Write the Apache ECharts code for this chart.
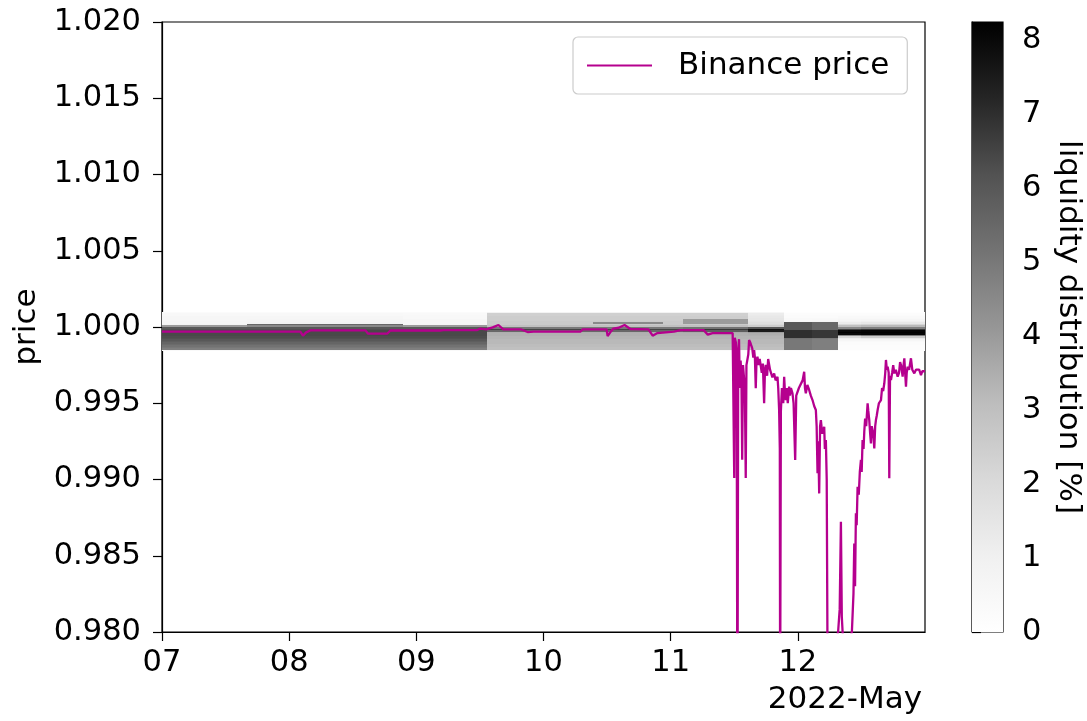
<!DOCTYPE html>
<html>
<head>
<meta charset="utf-8">
<script src="https://cdn.jsdelivr.net/npm/echarts@6/dist/echarts.min.js"></script>
<style>
  html, body { margin: 0; padding: 0; background: #fff; }
  #chart { width: 1087px; height: 721px; }
</style>
</head>
<body>
<div id="chart"></div>
<script>
// Hours are counted from 2022-05-07 00:00.
const dayTicks = [0, 24, 48, 72, 96, 120];
const dayLabels = ['07', '08', '09', '10', '11', '12'];
const colorbarTicks = [0, 1, 2, 3, 4, 5, 6, 7, 8];
const colorbarMax = 8.25;

// Binance price: [hour, price]
const binancePrice = [
  [0, 0.9997], [26.1, 0.9997], [26.6, 0.99943], [27.2, 0.99965], [28.0, 0.99978],
  [38.4, 0.99978], [38.9, 0.99956], [42.5, 0.99956], [43.1, 0.99977], [52.5, 0.99977],
  [53.1, 0.9998], [59.5, 0.9998], [60.1, 0.9999], [61.2, 0.99985], [62.4, 0.99998],
  [63.5, 1.00013], [64.4, 0.99985], [67.7, 0.99985], [69.0, 0.99967], [70.1, 0.9997],
  [79.0, 0.9997], [79.4, 0.99985], [83.9, 0.99985], [84.1, 0.9994], [84.7, 0.9997],
  [85.2, 0.9999], [86.2, 0.99995], [87.3, 1.00013], [88.4, 0.99987], [91.8, 0.99985],
  [92.6, 0.99943], [93.5, 0.9996], [96.6, 0.9997], [97.9, 0.9998], [102.2, 0.9998],
  [103.0, 0.9995], [103.9, 0.9996], [107.7, 0.9996], [107.95, 0.9996],
  [108.0, 0.9901], [108.1, 0.9993], [108.3, 0.9990], [108.45, 0.9975], [108.6, 0.9720],
  [108.75, 0.9985], [108.9, 0.9992], [109.05, 0.9960], [109.2, 0.9978], [109.35, 0.9968],
  [109.5, 0.9913], [109.65, 0.9975], [109.85, 0.9974], [110.0, 0.9960], [110.17, 0.9901],
  [110.3, 0.9975], [110.5, 0.9974], [110.65, 0.9982], [110.8, 0.99915], [111.0, 0.9990],
  [111.12, 0.99893], [111.4, 0.9986], [111.6, 0.9980], [111.75, 0.99849], [111.9, 0.9980],
  [112.06, 0.99598], [112.2, 0.9978], [112.38, 0.99805], [112.6, 0.9975], [112.8, 0.9979],
  [113.01, 0.99784], [113.2, 0.9970], [113.4, 0.9976], [113.64, 0.9950], [113.8, 0.9972],
  [113.95, 0.99751], [114.2, 0.9968], [114.4, 0.9979], [114.58, 0.99795], [114.75, 0.9972],
  [114.9, 0.99718], [115.2, 0.9967], [115.53, 0.99696], [115.8, 0.9965], [116.16, 0.99674],
  [116.3, 0.9960], [116.47, 0.99456], [116.6, 0.9920], [116.66, 0.9750], [116.8, 0.9945],
  [117.0, 0.9960], [117.1, 0.99565], [117.25, 0.9950], [117.42, 0.99674], [117.6, 0.9955],
  [117.73, 0.99521], [117.9, 0.9960], [118.1, 0.9950], [118.36, 0.99609], [118.5, 0.9955],
  [118.7, 0.9960], [118.99, 0.99565], [119.2, 0.9950], [119.5, 0.99128], [119.7, 0.9955],
  [119.94, 0.99543], [120.2, 0.9960], [120.57, 0.99609], [120.9, 0.9965], [121.2, 0.99707],
  [121.35, 0.9960], [121.51, 0.99565], [121.8, 0.9962], [122.14, 0.99587], [122.45, 0.9955],
  [122.77, 0.99521], [123.1, 0.9948], [123.4, 0.99456], [123.55, 0.9935], [123.72, 0.99041],
  [123.85, 0.9925], [124.03, 0.98909], [124.2, 0.9935], [124.35, 0.9939], [124.6, 0.9930],
  [124.98, 0.99346], [125.1, 0.9920], [125.29, 0.99259], [125.45, 0.9900], [125.61, 0.9780],
  [125.8, 0.9790], [126.0, 0.9770], [126.3, 0.9785], [126.6, 0.9775], [126.9, 0.9790],
  [127.2, 0.9790], [127.6, 0.9800], [127.9, 0.9815], [128.13, 0.98723], [128.3, 0.9810],
  [128.6, 0.9790], [129.0, 0.9775], [129.4, 0.9785], [129.8, 0.9795], [130.2, 0.9800],
  [130.5, 0.9825], [130.65, 0.9858], [130.8, 0.9830], [130.96, 0.98778], [131.1, 0.9870],
  [131.28, 0.98953], [131.5, 0.9890], [131.7, 0.9905], [131.91, 0.99128], [132.05, 0.9905],
  [132.22, 0.99259], [132.4, 0.9920], [132.54, 0.99313], [132.7, 0.9940], [132.9, 0.9935],
  [133.17, 0.99499], [133.3, 0.9945], [133.48, 0.9939], [133.65, 0.9930], [133.8, 0.99237],
  [133.95, 0.9935], [134.11, 0.99346], [134.25, 0.9930], [134.43, 0.99204], [134.6, 0.9935],
  [134.74, 0.9939], [134.9, 0.9942], [135.06, 0.99456], [135.3, 0.9950], [135.69, 0.99521],
  [135.9, 0.9960], [136.1, 0.9958], [136.32, 0.99631], [136.5, 0.9970], [136.63, 0.99784],
  [136.8, 0.9972], [136.95, 0.9974], [137.15, 0.9970], [137.26, 0.99008], [137.4, 0.9968],
  [137.58, 0.99652], [137.8, 0.9970], [138.0, 0.9975], [138.21, 0.99696], [138.5, 0.9972],
  [138.84, 0.99674], [139.1, 0.9970], [139.3, 0.9977], [139.47, 0.99751], [139.6, 0.9972],
  [139.78, 0.99674], [139.95, 0.9975], [140.1, 0.99795], [140.25, 0.9970], [140.41, 0.99609],
  [140.55, 0.9970], [140.72, 0.9974], [141.0, 0.9972], [141.35, 0.99795], [141.6, 0.9972],
  [141.98, 0.99696], [142.3, 0.9972], [142.61, 0.99707], [142.9, 0.9972], [143.24, 0.99685],
  [143.5, 0.9971], [143.87, 0.99718], [144.0, 0.9971]
];

// Liquidity heatmap: time column edges (hours) and price bins (lower edges, 0.0001 wide)
const timeEdges = [0, 16, 45.5, 61.4, 81.3, 94.5, 98.3, 110.6, 117.4, 122.6, 127.6, 131.9, 144];
const priceBinStart = 0.9984;
const priceBinWidth = 0.0001;
// liquidity[column][bin] in %, bins from 0.9984 up to 1.0009
const liquidity = [
  [0.4, 4.8, 5.0, 5.2, 5.4, 5.6, 5.8, 6.0, 6.2, 6.3, 6.4, 6.4, 6.4, 6.4, 6.2, 6.0, 4.0, 0.8, 0.7, 0.7, 0.6, 0.6, 0.6, 0.5, 0.5, 0.3],
  [0.4, 4.8, 5.0, 5.2, 5.4, 5.6, 5.8, 6.0, 6.2, 6.3, 6.4, 6.4, 6.4, 6.4, 6.2, 6.0, 4.5, 5.5, 0.8, 0.7, 0.7, 0.6, 0.6, 0.5, 0.5, 0.3],
  [0.4, 4.8, 5.0, 5.2, 5.4, 5.6, 5.8, 6.0, 6.2, 6.3, 6.4, 6.4, 6.4, 6.4, 6.2, 6.0, 4.0, 0.7, 0.6, 0.6, 0.6, 0.5, 0.5, 0.5, 0.4, 0.3],
  [0.3, 3.0, 3.0, 3.1, 3.1, 3.2, 3.2, 3.2, 3.3, 3.3, 3.4, 3.4, 3.5, 5.5, 6.5, 5.0, 3.0, 2.6, 2.6, 2.6, 2.5, 2.5, 2.5, 2.4, 2.4, 0.8],
  [0.3, 3.0, 3.0, 3.1, 3.1, 3.2, 3.2, 3.2, 3.3, 3.3, 3.4, 3.4, 3.5, 5.5, 6.5, 5.0, 3.0, 2.6, 4.5, 2.6, 2.5, 2.5, 2.5, 2.4, 2.4, 0.8],
  [0.3, 3.0, 3.0, 3.1, 3.1, 3.2, 3.2, 3.2, 3.3, 3.3, 3.4, 3.4, 3.5, 5.5, 6.5, 5.0, 3.0, 2.6, 2.6, 2.6, 2.5, 2.5, 2.5, 2.4, 2.4, 0.8],
  [0.3, 3.0, 3.0, 3.1, 3.1, 3.2, 3.2, 3.2, 3.3, 3.3, 3.4, 3.4, 3.6, 5.8, 6.8, 5.2, 3.0, 2.6, 4.0, 4.0, 4.0, 2.5, 2.5, 2.4, 2.4, 0.8],
  [0.3, 3.0, 3.0, 3.1, 3.1, 3.2, 3.2, 3.2, 3.3, 3.3, 3.4, 3.5, 4.0, 7.5, 7.8, 6.0, 2.5, 2.0, 1.8, 1.6, 1.5, 1.5, 1.4, 1.3, 1.2, 0.6],
  [0.3, 5.0, 5.0, 5.0, 5.0, 5.0, 5.0, 5.0, 5.2, 7.0, 7.0, 7.0, 7.0, 7.0, 6.0, 6.0, 6.0, 6.0, 6.0, 0.5, 0.4, 0.4, 0.3, 0.3, 0.2, 0.1],
  [0.3, 4.8, 4.8, 4.8, 4.8, 4.8, 4.8, 4.8, 5.0, 6.8, 6.8, 6.8, 6.8, 6.8, 5.5, 5.5, 5.5, 5.5, 5.5, 0.6, 0.5, 0.4, 0.3, 0.3, 0.2, 0.1],
  [0.1, 0.2, 0.2, 0.2, 0.3, 0.3, 0.4, 0.6, 1.0, 2.0, 4.5, 8.0, 8.2, 8.0, 6.5, 4.5, 3.0, 2.0, 1.2, 0.8, 0.6, 0.5, 0.4, 0.3, 0.2, 0.1],
  [0.1, 0.2, 0.2, 0.2, 0.3, 0.3, 0.4, 0.6, 1.2, 2.5, 5.0, 8.1, 8.2, 8.1, 6.8, 4.8, 3.2, 2.2, 1.4, 1.0, 0.7, 0.5, 0.4, 0.3, 0.2, 0.1]
];

// matplotlib "Greys" colour ramp
const greys = ['#ffffff', '#f0f0f0', '#d9d9d9', '#bdbdbd', '#969696', '#737373', '#525252', '#252525', '#000000'];

const FONT = 'DejaVu Sans';
const LINE_COLOR = '#b5008e';

const cells = [];
liquidity.forEach((col, ci) => {
  col.forEach((v, bi) => {
    const p0 = +(priceBinStart + bi * priceBinWidth).toFixed(4);
    const p1 = +(p0 + priceBinWidth).toFixed(4);
    cells.push([timeEdges[ci], timeEdges[ci + 1], p0, p1, v]);
  });
});

const chart = echarts.init(document.getElementById('chart'));

function renderCell(params, api) {
  const a = api.coord([api.value(0), api.value(3)]);
  const b = api.coord([api.value(1), api.value(2)]);
  const x0 = Math.round(a[0]), x1 = Math.round(b[0]);
  const y0 = Math.round(a[1]), y1 = Math.round(b[1]);
  return {
    type: 'rect',
    shape: { x: x0, y: y0, width: x1 - x0, height: y1 - y0 },
    style: { fill: api.visual('color') }
  };
}

function renderColorbar(params, api) {
  const a = api.coord([0, api.value(1)]);
  const b = api.coord([1, api.value(0)]);
  const stops = greys.map((c, i) => ({ offset: i / (greys.length - 1), color: c }));
  return {
    type: 'rect',
    shape: { x: a[0], y: a[1], width: b[0] - a[0], height: b[1] - a[1] },
    style: { fill: new echarts.graphic.LinearGradient(0, 1, 0, 0, stops) }
  };
}

const axisText = { color: '#000', fontFamily: FONT, fontSize: 30.5 };

chart.setOption({
  backgroundColor: '#fff',
  animation: false,
  title: {
    text: '2022-May',
    right: 165,
    top: 684,
    padding: 0,
    textStyle: { color: '#000', fontFamily: FONT, fontSize: 31, fontWeight: 'normal' }
  },
  grid: [
    { left: 162, top: 22, width: 763, height: 610, show: true, borderColor: '#000', borderWidth: 1.2, backgroundColor: 'transparent' },
    { left: 972, top: 22, width: 31, height: 610, show: true, borderColor: '#000', borderWidth: 1.2, backgroundColor: 'transparent' }
  ],
  xAxis: [
    {
      type: 'value', gridIndex: 0, min: 0, max: 144, interval: 24,
      axisLine: { show: true, onZero: false, lineStyle: { color: '#000', width: 1.2 } },
      axisTick: { show: true, length: 9, customValues: dayTicks, lineStyle: { color: '#000', width: 1.2 } },
      axisLabel: Object.assign({ margin: 16, customValues: dayTicks,
        formatter: v => dayLabels[dayTicks.indexOf(v)] || '' }, axisText),
      splitLine: { show: false }
    },
    { type: 'value', gridIndex: 1, min: 0, max: 1, show: false }
  ],
  yAxis: [
    {
      type: 'value', gridIndex: 0, min: 0.98, max: 1.02, interval: 0.005,
      name: 'price', nameLocation: 'middle', nameGap: 120, nameRotate: 90,
      nameTextStyle: { color: '#000', fontFamily: FONT, fontSize: 31 },
      axisLine: { show: true, onZero: false, lineStyle: { color: '#000', width: 1.2 } },
      axisTick: { show: true, length: 9, lineStyle: { color: '#000', width: 1.2 } },
      axisLabel: Object.assign({ margin: 21, formatter: v => v.toFixed(3) }, axisText),
      splitLine: { show: false }
    },
    {
      type: 'value', gridIndex: 1, position: 'right', min: 0, max: colorbarMax,
      name: 'liquidity distribution [%]', nameLocation: 'middle', nameGap: 50, nameRotate: -90,
      nameTextStyle: { color: '#000', fontFamily: FONT, fontSize: 31 },
      axisLine: { show: true, lineStyle: { color: '#000', width: 1.2 } },
      axisTick: { show: true, length: 9, customValues: colorbarTicks, lineStyle: { color: '#000', width: 1.2 } },
      axisLabel: Object.assign({ margin: 19, customValues: colorbarTicks }, axisText),
      splitLine: { show: false }
    }
  ],
  visualMap: {
    type: 'continuous', show: false, seriesIndex: 0, dimension: 4,
    min: 0, max: colorbarMax, inRange: { color: greys }
  },
  legend: {
    left: 573, top: 37,
    padding: [13, 18, 13, 14],
    icon: 'rect',
    itemWidth: 65, itemHeight: 2.2,
    backgroundColor: '#fff', borderColor: '#cccccc', borderWidth: 1.2, borderRadius: 5,
    textStyle: { color: '#000', fontFamily: FONT, fontSize: 31, padding: [0, 0, 0, 21], lineHeight: 31 },
    data: ['Binance price']
  },
  series: [
    {
      name: 'liquidity', type: 'custom', xAxisIndex: 0, yAxisIndex: 0,
      renderItem: renderCell, data: cells, clip: true, silent: true,
      encode: { x: [0, 1], y: [2, 3] }, z: 1
    },
    {
      name: 'Binance price', type: 'line', xAxisIndex: 0, yAxisIndex: 0,
      data: binancePrice, symbol: 'none', clip: true, z: 5,
      lineStyle: { color: LINE_COLOR, width: 2.3 }, itemStyle: { color: LINE_COLOR }
    },
    {
      name: 'colorbar', type: 'custom', xAxisIndex: 1, yAxisIndex: 1,
      renderItem: renderColorbar, data: [[0, colorbarMax]], silent: true,
      encode: { x: -1, y: [0, 1] }, z: 1
    }
  ]
});
</script>
</body>
</html>
